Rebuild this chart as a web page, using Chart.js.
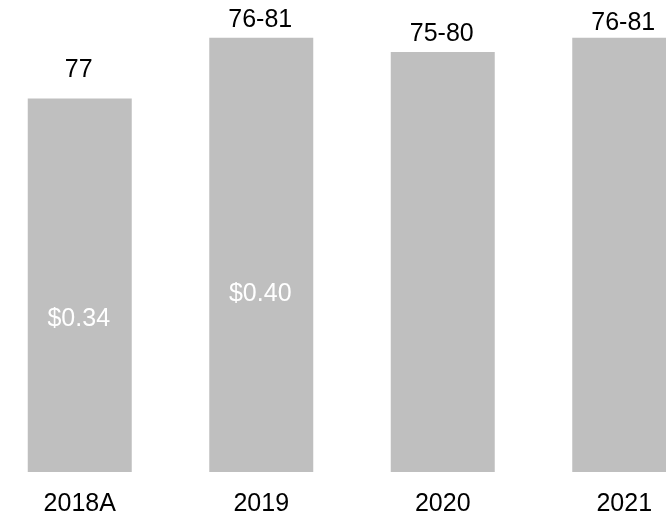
<!DOCTYPE html>
<html>
<head>
<meta charset="utf-8">
<script src="https://cdn.jsdelivr.net/npm/chart.js@4"></script>
<style>
  html, body { margin: 0; padding: 0; background: #fff; overflow: hidden; }
  #wrap { position: absolute; left: -11px; top: 0; width: 726px; height: 537px; }
</style>
</head>
<body>
<div id="wrap"><canvas id="chart"></canvas></div>
<script>
// chart data
const years = ['2018A', '2019', '2020', '2021'];
const epsValues = [0.344, 0.40, 0.387, 0.40];
const epsLabels = ['$0.34', '$0.40', '', ''];
const rangeLabels = ['77', '76-81', '75-80', '76-81'];

const FONT = '"Liberation Sans", Arial, sans-serif';

// draws the range labels above the bars and the EPS labels inside them
const barLabels = {
  id: 'barLabels',
  afterDatasetsDraw(chart, args, opts) {
    const ctx = chart.ctx;
    const meta = chart.getDatasetMeta(0);
    const yScale = chart.scales.y;
    ctx.save();
    ctx.font = `25px ${FONT}`;
    ctx.textAlign = 'center';
    ctx.textBaseline = 'alphabetic';
    meta.data.forEach((bar, i) => {
      ctx.fillStyle = '#000';
      ctx.fillText(rangeLabels[i], bar.x - 1, bar.y - opts.topGap[i]);
      if (epsLabels[i]) {
        ctx.fillStyle = '#fff';
        ctx.textBaseline = 'middle';
        ctx.fillText(epsLabels[i], bar.x - 1, yScale.getPixelForValue(epsValues[i] * opts.innerPos));
        ctx.textBaseline = 'alphabetic';
      }
    });
    ctx.restore();
  }
};

new Chart(document.getElementById('chart'), {
  type: 'bar',
  data: {
    labels: years,
    datasets: [{
      data: epsValues,
      backgroundColor: '#BFBFBF',
      borderWidth: 0,
      barPercentage: 0.573,
      categoryPercentage: 1
    }]
  },
  options: {
    responsive: true,
    maintainAspectRatio: false,
    animation: false,
    layout: { padding: 0 },
    plugins: {
      legend: { display: false },
      tooltip: { enabled: false },
      barLabels: { topGap: [22, 11, 11, 8], innerPos: 0.41 }
    },
    scales: {
      x: {
        grid: { display: false, drawTicks: false },
        border: { display: false },
        ticks: {
          color: '#000',
          font: { family: FONT, size: 25, lineHeight: 1 },
          padding: 20,
          autoSkip: false,
          maxRotation: 0
        }
      },
      y: {
        display: false,
        min: 0,
        max: 0.4348
      }
    }
  },
  plugins: [barLabels]
});
</script>
</body>
</html>
